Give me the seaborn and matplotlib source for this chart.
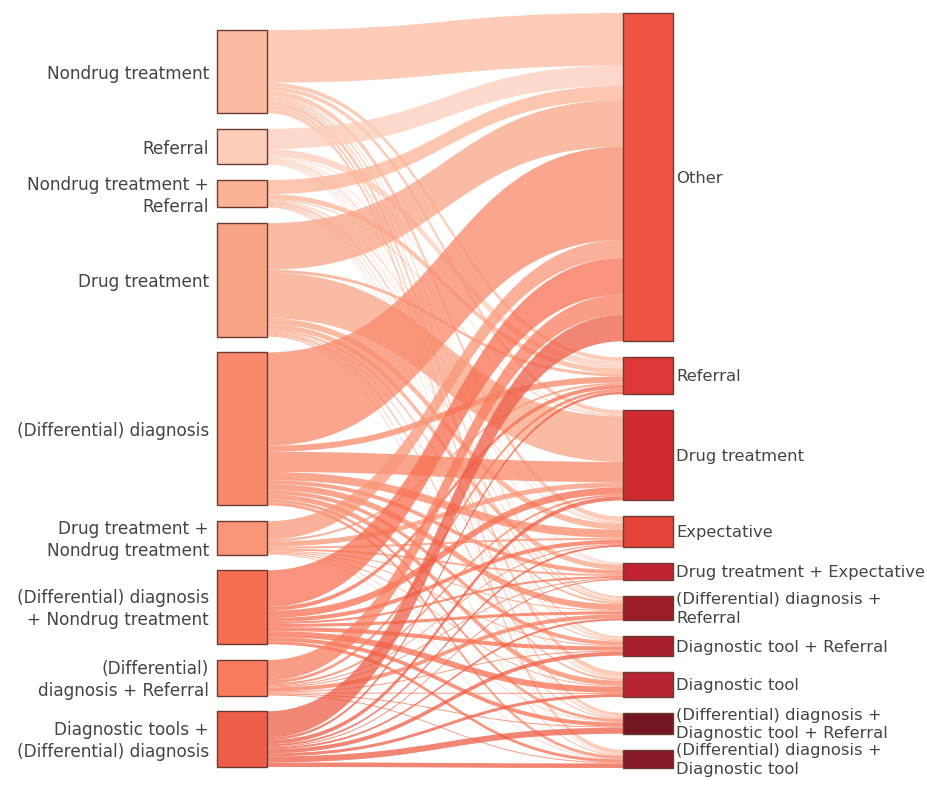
import numpy as np
import matplotlib
matplotlib.use("Agg")
import matplotlib.pyplot as plt
from matplotlib.path import Path
from matplotlib.patches import PathPatch, Rectangle
import seaborn as sns

# Noeuds de gauche (approche initiale)
source_labels = [
    "Nondrug treatment",
    "Referral",
    "Nondrug treatment +\nReferral",
    "Drug treatment",
    "(Differential) diagnosis",
    "Drug treatment +\nNondrug treatment",
    "(Differential) diagnosis\n+ Nondrug treatment",
    "(Differential)\ndiagnosis + Referral",
    "Diagnostic tools +\n(Differential) diagnosis",
]
source_colors = ["#FBBBA1", "#FCCDB9", "#FBB396", "#F9A487", "#F9896A",
                 "#F99677", "#F76F51", "#F87C5D", "#EE5D47"]

# Noeuds de droite (approche finale)
target_labels = [
    "Other",
    "Referral",
    "Drug treatment",
    "Expectative",
    "Drug treatment + Expectative",
    "(Differential) diagnosis +\nReferral",
    "Diagnostic tool + Referral",
    "Diagnostic tool",
    "(Differential) diagnosis +\nDiagnostic tool + Referral",
    "(Differential) diagnosis +\nDiagnostic tool",
]
target_colors = ["#EF5442", "#DE3737", "#D02A31", "#E4443A", "#BF2330",
                 "#9C1D28", "#A71F2B", "#B62531", "#731522", "#851A26"]

# Flux estimés : une ligne par source, une colonne par cible
flow_nondrug = [52, 4, 4, 5, 1, 2, 2, 5, 3, 4]
flow_referral = [20, 7, 1, 1, 0.5, 2, 1, 1, 1, 0.5]
flow_nondrug_ref = [14, 5, 1, 1, 0.5, 2, 1, 1, 1, 0.5]
flow_drug = [46, 3, 45, 6, 5, 2, 1, 2, 1, 1]
flow_diff = [92, 6, 20, 8, 4, 6, 4, 5, 3, 3]
flow_drug_nondrug = [18, 2, 5, 2, 2, 1, 1, 1, 0.5, 0.5]
flow_diff_nondrug = [36, 4, 7, 4, 2, 3, 4, 6, 4, 3]
flow_diff_ref = [20, 3, 2, 1, 1, 4, 1, 1, 1, 1]
flow_tools_diff = [26, 2.5, 4, 2, 1, 2, 4, 3, 6, 4.5]

flows = np.array([flow_nondrug, flow_referral, flow_nondrug_ref, flow_drug,
                  flow_diff, flow_drug_nondrug, flow_diff_nondrug,
                  flow_diff_ref, flow_tools_diff], dtype=float)


def column_layout(totals, top, bottom, ky):
    """Positions verticales des noeuds d'une colonne."""
    pad = (bottom - top - totals.sum() * ky) / (len(totals) - 1)
    y0 = top + np.concatenate([[0], np.cumsum(totals[:-1] * ky + pad)])
    return y0, y0 + totals * ky


def band(x0, x1, ys0, ys1, yt0, yt1):
    xm = (x0 + x1) / 2
    verts = [(x0, ys0), (xm, ys0), (xm, yt0), (x1, yt0),
             (x1, yt1), (xm, yt1), (xm, ys1), (x0, ys1), (x0, ys0)]
    codes = [Path.MOVETO, Path.CURVE4, Path.CURVE4, Path.CURVE4,
             Path.LINETO, Path.CURVE4, Path.CURVE4, Path.CURVE4, Path.CLOSEPOLY]
    return Path(verts, codes)


sns.set_theme(style="white")
plt.rcParams['font.family'] = ['DejaVu Sans']

W, H = 927, 791
fig = plt.figure(figsize=(W / 100, H / 100), dpi=100)
ax = fig.add_axes([0, 0, 1, 1])
ax.set_xlim(0, W)
ax.set_ylim(H, 0)
ax.axis("off")

left_x0, left_x1 = 217, 267
right_x0, right_x1 = 623, 673

src_tot = flows.sum(axis=1)
tgt_tot = flows.sum(axis=0)
ky = (768 - 13 - 9 * 16) / tgt_tot.sum()
s_top, s_bot = column_layout(src_tot, 30, 767, ky)
t_top, t_bot = column_layout(tgt_tot, 13, 768, ky)

# offsets des flux aux deux extrémités
s_off = s_top.copy()
t_off = t_top.copy()
link_pos = {}
for i in range(flows.shape[0]):
    for j in range(flows.shape[1]):
        h = flows[i, j] * ky
        link_pos[(i, j)] = [s_off[i], s_off[i] + h]
        s_off[i] += h
for j in range(flows.shape[1]):
    for i in range(flows.shape[0]):
        h = flows[i, j] * ky
        link_pos[(i, j)] += [t_off[j], t_off[j] + h]
        t_off[j] += h

for i in range(flows.shape[0]):
    for j in range(flows.shape[1]):
        ys0, ys1, yt0, yt1 = link_pos[(i, j)]
        ax.add_patch(PathPatch(band(left_x1, right_x0, ys0, ys1, yt0, yt1),
                               facecolor=source_colors[i], edgecolor="none",
                               alpha=0.75, zorder=1))

edge = "#6B3A33"
for i, lab in enumerate(source_labels):
    ax.add_patch(Rectangle((left_x0, s_top[i]), left_x1 - left_x0, s_bot[i] - s_top[i],
                           facecolor=source_colors[i], edgecolor=edge, lw=1, zorder=2))
    ax.text(left_x0 - 8, (s_top[i] + s_bot[i]) / 2 + 2, lab, ha="right", va="center",
            multialignment="right", fontsize=12.2, color="#444444", linespacing=1.3)

for j, lab in enumerate(target_labels):
    ax.add_patch(Rectangle((right_x0, t_top[j]), right_x1 - right_x0, t_bot[j] - t_top[j],
                           facecolor=target_colors[j], edgecolor=edge, lw=1, zorder=2))
    ax.text(right_x1 + 3, (t_top[j] + t_bot[j]) / 2 + 1, lab, ha="left", va="center",
            fontsize=11.8, color="#444444", linespacing=1.3)

fig.savefig("out.png", dpi=100)
